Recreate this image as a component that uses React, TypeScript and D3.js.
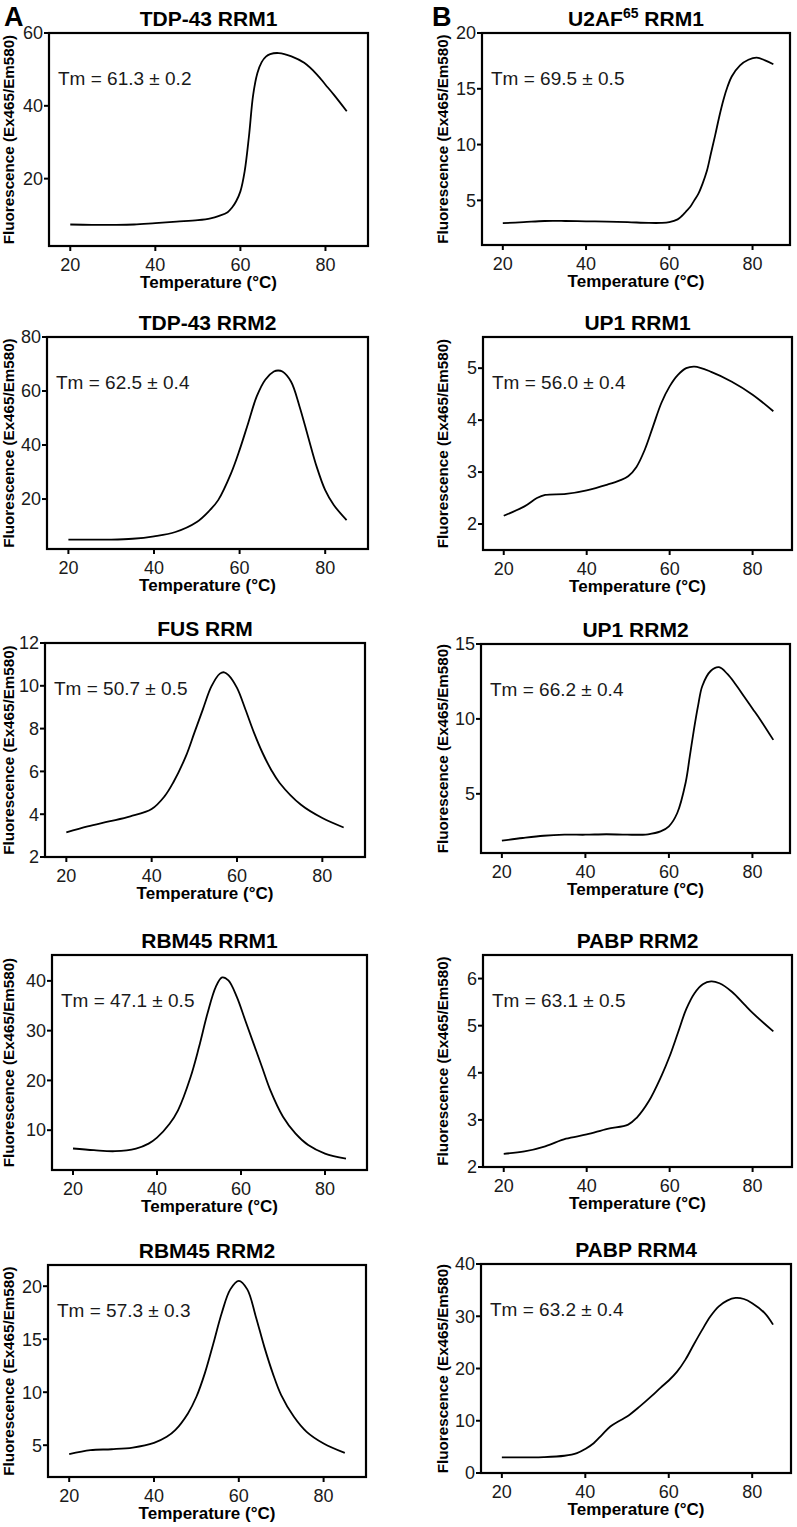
import React from 'react';
import * as d3 from 'd3';

const FONT = "'Liberation Sans', Arial, Helvetica, sans-serif";

const xTicks = [20, 40, 60, 80];

// TDP-43 RRM1
const tdp1T = [20, 25, 30, 35, 40, 45, 50, 53, 55, 57, 58, 59, 60, 61, 62, 63, 64, 65, 66, 67, 69, 72, 75, 78, 80, 82, 85];
const tdp1F = [7.4, 7.3, 7.3, 7.4, 7.8, 8.2, 8.6, 9.1, 9.8, 10.8, 12.0, 13.8, 16.5, 22, 31.5, 43, 49, 52, 53.5, 54.2, 54.5, 53.6, 51.8, 48.6, 45.8, 43.0, 38.5];
const tdp1Ticks = [20, 40, 60];

// U2AF65 RRM1
const u2afT = [20, 25, 30, 35, 40, 45, 50, 55, 58, 60, 62, 63, 64, 65, 66, 67, 68, 69, 70, 71, 72, 73, 74, 75, 77, 79, 81, 83, 85];
const u2afF = [2.96, 3.05, 3.15, 3.15, 3.12, 3.1, 3.05, 2.98, 2.98, 3.05, 3.3, 3.6, 4.0, 4.4, 5.0, 5.6, 6.5, 7.6, 9.2, 10.8, 12.5, 14.0, 15.2, 16.1, 17.1, 17.6, 17.8, 17.55, 17.2];
const u2afTicks = [5, 10, 15, 20];

// TDP-43 RRM2
const tdp2T = [20, 25, 30, 35, 40, 45, 50, 53, 55, 58, 60, 62, 64, 66, 68, 69, 70, 72, 74, 76, 78, 80, 82, 85];
const tdp2F = [5.0, 5.0, 5.0, 5.3, 6.2, 7.8, 11.5, 15.8, 19.6, 29.5, 38.2, 48.1, 58, 64.2, 67.2, 67.6, 67.2, 63.5, 54.3, 43.1, 32, 23.3, 17.8, 12.2];
const tdp2Ticks = [20, 40, 60, 80];

// UP1 RRM1
const up1aT = [20, 25, 28, 30, 35, 40, 45, 48, 50, 52, 54, 56, 58, 60, 62, 64, 66, 70, 75, 80, 85];
const up1aF = [2.16, 2.34, 2.5, 2.56, 2.58, 2.65, 2.76, 2.84, 2.92, 3.1, 3.43, 3.88, 4.33, 4.65, 4.87, 5.0, 5.03, 4.93, 4.74, 4.49, 4.17];
const up1aTicks = [2, 3, 4, 5];

// FUS RRM
const fusT = [20, 25, 30, 35, 40, 43, 45, 48, 50, 52, 54, 56, 57, 58, 60, 62, 64, 66, 68, 70, 75, 80, 85];
const fusF = [3.15, 3.43, 3.66, 3.9, 4.24, 4.83, 5.46, 6.7, 7.8, 8.9, 9.97, 10.57, 10.63, 10.5, 9.9, 8.88, 7.8, 6.86, 6.08, 5.46, 4.44, 3.82, 3.38];
const fusTicks = [2, 4, 6, 8, 10, 12];

// UP1 RRM2
const up1bT = [20, 25, 30, 35, 40, 45, 50, 55, 58, 60, 62, 64, 65, 66, 67, 68, 70, 72, 74, 76, 78, 80, 82, 85];
const up1bF = [1.87, 2.05, 2.2, 2.27, 2.27, 2.3, 2.27, 2.3, 2.49, 2.83, 3.72, 5.74, 7.5, 9.3, 10.9, 12.2, 13.2, 13.45, 13.0, 12.3, 11.5, 10.7, 9.9, 8.6];
const up1bTicks = [5, 10, 15];

// RBM45 RRM1
const rbm1T = [20, 25, 30, 35, 38, 40, 43, 45, 48, 50, 52, 54, 55.5, 57, 59, 61, 63, 65, 67, 70, 73, 76, 80, 85];
const rbm1F = [6.32, 5.98, 5.78, 6.3, 7.3, 8.5, 11.3, 14, 20.7, 26.7, 33.4, 38.8, 40.7, 40.1, 36.8, 32.1, 27.4, 22.7, 18, 12.7, 9.3, 7, 5.3, 4.3];
const rbm1Ticks = [10, 20, 30, 40];

// PABP RRM2
const pabp2T = [20, 25, 30, 35, 40, 45, 50, 52, 55, 58, 60, 62, 64, 66, 68, 70, 72, 75, 78, 80, 85];
const pabp2F = [2.28, 2.33, 2.44, 2.6, 2.69, 2.81, 2.9, 3.04, 3.4, 3.93, 4.35, 4.85, 5.35, 5.69, 5.88, 5.94, 5.9, 5.72, 5.45, 5.27, 4.88];
const pabp2Ticks = [2, 3, 4, 5, 6];

// RBM45 RRM2
const rbm2T = [20, 25, 30, 35, 40, 43, 45, 48, 50, 52, 54, 56, 58, 60, 62, 64, 66, 68, 70, 73, 76, 80, 85];
const rbm2F = [4.15, 4.53, 4.62, 4.78, 5.22, 5.79, 6.42, 8, 9.57, 11.8, 14.6, 17.5, 19.7, 20.5, 19.7, 17.15, 14.3, 11.8, 9.73, 7.68, 6.26, 5.16, 4.27];
const rbm2Ticks = [5, 10, 15, 20];

// PABP RRM4
const pabp4T = [20, 30, 35, 38, 40, 42, 44, 46, 48, 50, 53, 56, 58, 60, 62, 64, 66, 68, 70, 72, 74, 76, 78, 80, 83, 85];
const pabp4F = [3.0, 3.05, 3.3, 3.8, 4.6, 5.7, 7.3, 8.9, 9.9, 10.8, 12.7, 14.8, 16.3, 17.7, 19.4, 21.7, 24.6, 27.4, 30, 31.9, 33, 33.5, 33.3, 32.5, 30.6, 28.4];
const pabp4Ticks = [0, 10, 20, 30, 40];

type Panel = {
  title: string;
  sup?: string;
  rest?: string;
  tm: string;
  T: number[];
  F: number[];
  yDomain: [number, number];
  yTicks: number[];
  xMax: number;
  box: [number, number, number, number]; // x0, x1, y0, y1
  ylabX: number;
};

const panels: Panel[] = [
  { title: 'TDP-43 RRM1', tm: 'Tm = 61.3 ± 0.2', T: tdp1T, F: tdp1F, yDomain: [1.5, 60], yTicks: tdp1Ticks, xMax: 90, box: [49, 368, 33, 246], ylabX: 9 },
  { title: 'TDP-43 RRM2', tm: 'Tm = 62.5 ± 0.4', T: tdp2T, F: tdp2F, yDomain: [1.5, 80], yTicks: tdp2Ticks, xMax: 90, box: [47, 368, 337, 549], ylabX: 9 },
  { title: 'FUS RRM', tm: 'Tm = 50.7 ± 0.5', T: fusT, F: fusF, yDomain: [2, 12], yTicks: fusTicks, xMax: 90, box: [45, 365, 643, 857], ylabX: 9 },
  { title: 'RBM45 RRM1', tm: 'Tm = 47.1 ± 0.5', T: rbm1T, F: rbm1F, yDomain: [2, 45.2], yTicks: rbm1Ticks, xMax: 90, box: [52, 367, 955, 1170], ylabX: 9 },
  { title: 'RBM45 RRM2', tm: 'Tm = 57.3 ± 0.3', T: rbm2T, F: rbm2F, yDomain: [2, 22], yTicks: rbm2Ticks, xMax: 90, box: [48, 366, 1265, 1477], ylabX: 9 },
  { title: 'U2AF', sup: '65', rest: ' RRM1', tm: 'Tm = 69.5 ± 0.5', T: u2afT, F: u2afF, yDomain: [1, 20], yTicks: u2afTicks, xMax: 89, box: [482, 790, 33, 245], ylabX: 443 },
  { title: 'UP1 RRM1', tm: 'Tm = 56.0 ± 0.4', T: up1aT, F: up1aF, yDomain: [1.5, 5.6], yTicks: up1aTicks, xMax: 89.5, box: [483, 792, 337, 550], ylabX: 443 },
  { title: 'UP1 RRM2', tm: 'Tm = 66.2 ± 0.4', T: up1bT, F: up1bF, yDomain: [1.05, 15], yTicks: up1bTicks, xMax: 89, box: [481, 790, 644, 853], ylabX: 443 },
  { title: 'PABP RRM2', tm: 'Tm = 63.1 ± 0.5', T: pabp2T, F: pabp2F, yDomain: [2, 6.5], yTicks: pabp2Ticks, xMax: 89.5, box: [483, 792, 955, 1167], ylabX: 443 },
  { title: 'PABP RRM4', tm: 'Tm = 63.2 ± 0.4', T: pabp4T, F: pabp4F, yDomain: [0, 40], yTicks: pabp4Ticks, xMax: 89.3, box: [481, 791, 1264, 1473], ylabX: 443 },
];

function PanelView({ p }: { p: Panel }) {
  const [x0, x1, y0, y1] = p.box;
  const x = d3.scaleLinear().domain([15, p.xMax]).range([x0, x1]);
  const y = d3.scaleLinear().domain(p.yDomain).range([y1, y0]);
  const pts = p.T.map((t, i) => [t, p.F[i]] as [number, number]);
  const line = d3
    .line<[number, number]>()
    .x((d) => x(d[0]))
    .y((d) => y(d[1]))
    .curve(d3.curveCatmullRom.alpha(0.5));
  const cx = (x0 + x1) / 2;
  const cy = (y0 + y1) / 2;
  return (
    <g>
      <text x={cx} y={y0 - 7} textAnchor="middle" fontSize={21} fontWeight="bold" fontFamily={FONT}>
        {p.title}
        {p.sup ? (
          <tspan fontSize={14} dy={-8}>{p.sup}</tspan>
        ) : null}
        {p.rest ? <tspan dy={8}>{p.rest}</tspan> : null}
      </text>
      <rect x={x0} y={y0} width={x1 - x0} height={y1 - y0} fill="none" stroke="#000" strokeWidth={2.2} />
      {p.yTicks.map((v) => (
        <g key={'y' + v}>
          <line x1={x0 - 5} x2={x0} y1={y(v)} y2={y(v)} stroke="#000" strokeWidth={2} />
          <text x={x0 - 6} y={y(v)} dy="0.35em" textAnchor="end" fontSize={18} fontFamily={FONT} fill="#1a1a1a">
            {v}
          </text>
        </g>
      ))}
      {xTicks.map((v) => (
        <g key={'x' + v}>
          <line x1={x(v)} x2={x(v)} y1={y1} y2={y1 + 5} stroke="#000" strokeWidth={2} />
          <text x={x(v)} y={y1 + 25} textAnchor="middle" fontSize={18} fontFamily={FONT} fill="#1a1a1a">
            {v}
          </text>
        </g>
      ))}
      <text x={cx} y={y1 + 42} textAnchor="middle" fontSize={17} fontWeight="bold" fontFamily={FONT}>
        Temperature (°C)
      </text>
      <text
        transform={`translate(${p.ylabX},${cy}) rotate(-90)`}
        textAnchor="middle"
        dy="0.35em"
        fontSize={15.2}
        fontWeight="bold"
        fontFamily={FONT}
      >
        Fluorescence (Ex465/Em580)
      </text>
      <text x={x0 + 9} y={y0 + 52} fontSize={19} fontFamily={FONT} fill="#1a1a1a">
        {p.tm}
      </text>
      <path d={line(pts) || ''} fill="none" stroke="#000" strokeWidth={1.8} />
    </g>
  );
}

export default function App() {
  return (
    <svg
      width={797}
      height={1527}
      viewBox="0 0 797 1527"
      style={{ position: 'absolute', left: 0, top: 0, background: '#fff' }}
    >
      <rect x={0} y={0} width={797} height={1527} fill="#fff" />
      <text x={4} y={26} fontSize={27} fontWeight="bold" fontFamily={FONT}>A</text>
      <text x={432} y={26} fontSize={27} fontWeight="bold" fontFamily={FONT}>B</text>
      {panels.map((p) => (
        <PanelView key={p.title + (p.rest || '')} p={p} />
      ))}
    </svg>
  );
}
